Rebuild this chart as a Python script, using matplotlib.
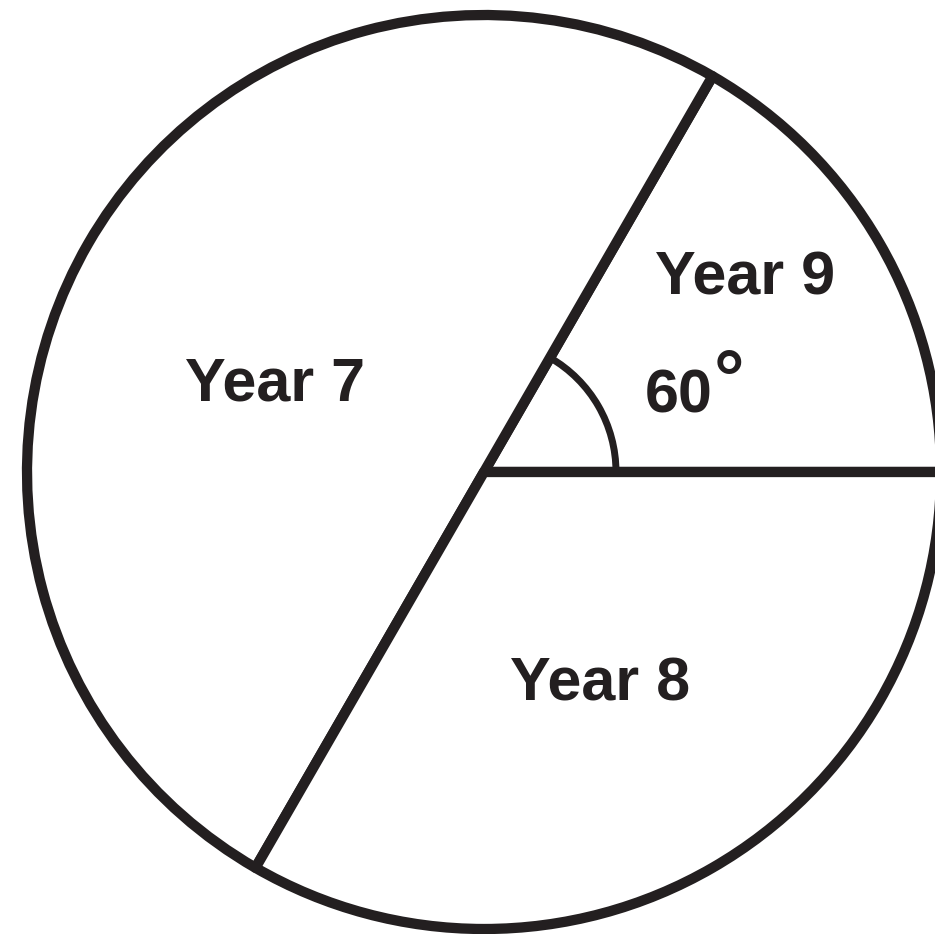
"""Pie chart of pupils by year group, drawn as a plain outline diagram."""

import matplotlib
matplotlib.use("Agg")
import matplotlib.pyplot as plt
from matplotlib.patches import Arc

# Sector angles in degrees (order: Year 9, Year 7, Year 8, going anticlockwise from 0 deg)
labels = ["Year 9", "Year 7", "Year 8"]
angles = [60, 180, 120]

ink = "#231f20"

# Figure is 935x934 px, axes use pixel coordinates (y measured from the bottom)
fig = plt.figure(figsize=(9.35, 9.34), dpi=100)
ax = fig.add_axes([0, 0, 1, 1])

cx, cy, r = 484, 462, 457

# Draw the sectors as white wedges with thick dark outlines
ax.pie(angles, startangle=0, counterclock=True, center=(cx, cy), radius=r,
       colors=["white"] * len(angles), frame=True,
       wedgeprops=dict(edgecolor=ink, linewidth=7.4, joinstyle="round"))
ax.set_xlim(0, 935)
ax.set_ylim(0, 934)
ax.set_aspect("equal")
ax.axis("off")

# Angle marker for the Year 9 sector
ax.add_patch(Arc((cx, cy), 2 * 132, 2 * 132, theta1=0, theta2=angles[0],
                 color=ink, linewidth=5))

# Text labels
font = dict(family="Liberation Sans", weight="bold", color=ink, fontsize=44,
            ha="center", va="center")
ax.text(745, 934 - 279, labels[0], **font)
ax.text(275, 934 - 385, labels[1], **font)
ax.text(600, 934 - 685, labels[2], **font)

# Angle value, with a raised degree sign like the original
ax.text(679, 934 - 397, str(angles[0]), **font)
ax.text(714, 934 - 404, "°", family="Liberation Sans", weight="bold",
        color=ink, fontsize=55, ha="left", va="baseline")

fig.savefig("out.png", dpi=100)
